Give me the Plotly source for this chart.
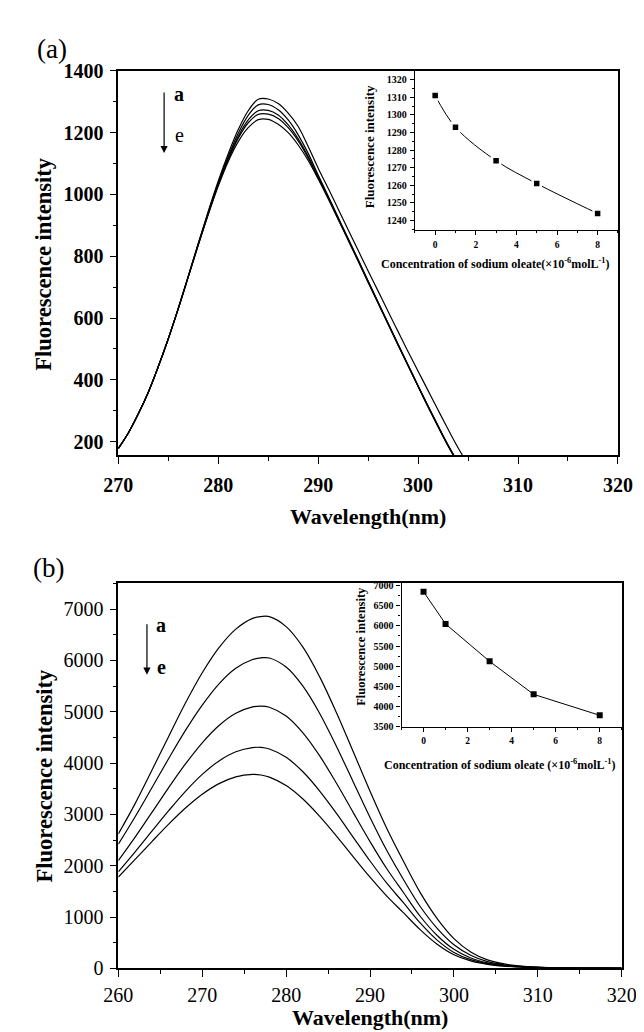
import plotly.graph_objects as go

W, H = 644, 1032
FONT = "Liberation Serif"

# ---------------- Panel (a) data ----------------
wl_a = list(range(270, 306))
spec_a_a = [178, 228, 290, 360, 443, 533, 632, 736, 842, 946, 1044, 1132, 1210, 1271, 1308, 1309, 1294, 1263, 1220, 1155,
            1085, 1020, 953, 886, 819, 752, 687, 621, 556, 491, 428, 365, 302, 240, 180, 125]
spec_a_b = [178, 228, 290, 360, 443, 533, 631, 735, 840, 942, 1038, 1123, 1198, 1256, 1290, 1291, 1274, 1241, 1193, 1133,
            1063, 995, 926, 857, 789, 720, 651, 583, 515, 448, 381, 315, 251, 189, 133, 83]
spec_a_c = [178, 228, 290, 360, 443, 533, 631, 734, 838, 939, 1034, 1117, 1188, 1241, 1271, 1272, 1257, 1225, 1180, 1123,
            1057, 991, 923, 855, 787, 718, 650, 582, 514, 447, 380, 314, 250, 188, 132, 82]
spec_a_d = [178, 228, 290, 360, 443, 533, 630, 733, 837, 937, 1031, 1113, 1182, 1232, 1259, 1260, 1246, 1216, 1173, 1118,
            1054, 989, 921, 854, 786, 717, 649, 581, 513, 446, 379, 313, 249, 187, 131, 81]
spec_a_e = [178, 228, 290, 360, 443, 533, 630, 733, 836, 935, 1027, 1107, 1171, 1216, 1242, 1243, 1227, 1200, 1160, 1110,
            1050, 986, 919, 852, 784, 715, 648, 580, 512, 445, 378, 312, 248, 186, 130, 80]

conc = [0, 1, 3, 5, 8]
inset_a = [1311, 1293, 1274, 1261, 1244]

# ---------------- Panel (b) data ----------------
wl_b = [260, 262, 264, 266, 268, 270, 272, 274, 276, 277, 278, 280, 282, 284, 286, 288, 290, 292, 294, 296,
        298, 300, 302, 304, 306, 308, 310, 312, 314, 316, 318, 320]
spec_b_a = [2620, 3210, 3860, 4520, 5170, 5760, 6250, 6610, 6820, 6855, 6855, 6660, 6260, 5680, 4980, 4220, 3450, 2725,
            2080, 1470, 970, 580, 320, 165, 85, 45, 25, 14, 8, 5, 3, 2]
spec_b_b = [2420, 2955, 3518, 4088, 4637, 5130, 5545, 5847, 6019, 6052, 6048, 5871, 5499, 4967, 4324, 3632, 2940, 2295,
            1727, 1200, 780, 460, 255, 130, 68, 36, 20, 11, 7, 4, 3, 2]
spec_b_c = [2100, 2557, 3038, 3522, 3983, 4395, 4732, 4970, 5094, 5110, 5088, 4916, 4588, 4139, 3606, 3035, 2470, 1940,
            1473, 1010, 640, 370, 200, 105, 55, 30, 17, 10, 6, 4, 2, 1]
spec_b_d = [1880, 2269, 2672, 3072, 3449, 3779, 4042, 4221, 4303, 4305, 4274, 4112, 3831, 3455, 3019, 2553, 2092, 1659,
            1274, 880, 550, 310, 170, 90, 48, 26, 15, 9, 5, 3, 2, 1]
spec_b_e = [1780, 2122, 2470, 2810, 3124, 3393, 3600, 3732, 3780, 3768, 3727, 3562, 3299, 2961, 2577, 2173, 1776, 1406,
            1080, 750, 470, 265, 145, 78, 42, 23, 13, 8, 5, 3, 2, 1]

inset_b = [6850, 6050, 5120, 4300, 3780]

# tick settings
ticks_a_x = dict(tick0=270, dtick=10)
ticks_a_y = dict(tick0=200, dtick=200)
ticks_b_x = dict(tick0=260, dtick=10)
ticks_b_y = dict(tick0=0, dtick=1000)


def fx(px):
    return px / W


def fy(py):
    return 1 - py / H


fig = go.Figure()

line_main = dict(color="black", width=1.2, shape="spline", smoothing=1.0)
for s in [spec_a_a, spec_a_b, spec_a_c, spec_a_d, spec_a_e]:
    fig.add_trace(go.Scatter(x=wl_a, y=s, mode="lines", line=line_main, xaxis="x", yaxis="y",
                             showlegend=False, hoverinfo="skip"))

fig.add_trace(go.Scatter(x=conc, y=inset_a, mode="lines+markers",
                         line=dict(color="black", width=1, shape="spline"),
                         marker=dict(symbol="square", size=8, color="black",
                                     line=dict(color="white", width=2.5)),
                         xaxis="x2", yaxis="y2", showlegend=False))

for s in [spec_b_a, spec_b_b, spec_b_c, spec_b_d, spec_b_e]:
    fig.add_trace(go.Scatter(x=wl_b, y=s, mode="lines", line=line_main, xaxis="x3", yaxis="y3",
                             showlegend=False, hoverinfo="skip"))

fig.add_trace(go.Scatter(x=conc, y=inset_b, mode="lines+markers",
                         line=dict(color="black", width=1),
                         marker=dict(symbol="square", size=6, color="black"),
                         xaxis="x4", yaxis="y4", showlegend=False))


def ax(domain, rng, anchor, tick, minor_dtick, size, bold, ticklen=7, minorlen=4, lw=1.5, standoff=2):
    return dict(domain=domain, range=rng, anchor=anchor, showline=True, linecolor="black", linewidth=lw,
                mirror=True, ticks="outside", ticklen=ticklen, tickwidth=1.3, tickcolor="black",
                minor=dict(dtick=minor_dtick, ticks="outside", ticklen=minorlen, tickwidth=1.1, tickcolor="black"),
                tickfont=dict(family=FONT, size=size, color="black", weight="bold" if bold else "normal"),
                showgrid=False, zeroline=False, ticklabelstandoff=standoff, **tick)


layout = dict(
    width=W, height=H, margin=dict(l=0, r=0, t=0, b=0),
    paper_bgcolor="white", plot_bgcolor="rgba(0,0,0,0)", showlegend=False,
    xaxis=ax([fx(100), fx(624)], [270, 320], "y", ticks_a_x, 5, 20, True, standoff=4),
    yaxis=ax([fy(446), fy(53)], [155, 1400], "x", ticks_a_y, 100, 20, True, standoff=2),
    xaxis2=ax([fx(411), fx(624)], [-1, 9], "y2", dict(tick0=0, dtick=2), 1, 9.5, True, ticklen=4, minorlen=2, lw=1.2, standoff=1),
    yaxis2=ax([fy(216), fy(53)], [1234.4, 1325], "x2", dict(tick0=1240, dtick=10), 5, 10, True, ticklen=4, minorlen=2, lw=1.2, standoff=1),
    xaxis3=ax([fx(100), fx(628)], [260, 320], "y3", ticks_b_x, 5, 20, False, standoff=1),
    yaxis3=ax([fy(970), fy(576)], [0, 7515], "x3", ticks_b_y, 500, 20, False, standoff=2),
    xaxis4=ax([fx(397), fx(628)], [-1, 9], "y4", dict(tick0=0, dtick=2), 1, 9.5, True, ticklen=4, minorlen=2, lw=1.2, standoff=1),
    yaxis4=ax([fy(723), fy(576)], [3500, 7073], "x4", dict(tick0=3500, dtick=500), 250, 10, True, ticklen=4, minorlen=2, lw=1.2, standoff=1),
)
fig.update_layout(**layout)


def txt(text, px, py, size, bold=True, angle=0):
    fig.add_annotation(text=text, x=fx(px), y=fy(py), xref="paper", yref="paper", showarrow=False,
                       xanchor="center", yanchor="middle", textangle=angle,
                       font=dict(family=FONT, size=size, color="black", weight="bold" if bold else "normal"))


def arrow(px, py_tail, py_head):
    fig.add_annotation(text="", x=fx(px), y=fy(py_head), xref="paper", yref="paper", showarrow=True,
                       ax=0, ay=py_tail - py_head, arrowhead=2, arrowsize=1.2, arrowwidth=1.2,
                       arrowcolor="black", standoff=0, startstandoff=0)


# panel labels
txt("(a)", 30, 31, 27, bold=False)
txt("(b)", 27, 561, 27, bold=False)

# main axis titles
txt("Fluorescence intensity", 22, 250, 22.5, angle=-90)
txt("Wavelength(nm)", 362, 508, 22)
txt("Fluorescence intensity", 23, 773, 22.5, angle=-90)
txt("Wavelength(nm)", 364, 1020, 22)

# inset titles
txt("Fluorescence intensity", 363, 131, 13, angle=-90)
txt("Concentration of sodium oleate(×10<sup>-6</sup>molL<sup>-1</sup>)", 495, 250, 12)
txt("Fluorescence intensity", 355, 641, 12.5, angle=-90)
txt("Concentration of sodium oleate (×10<sup>-6</sup>molL<sup>-1</sup>)", 500, 762, 12)

# a -> e arrows
arrow(148, 75, 137)
txt("a", 164, 77, 20, bold=True)
txt("e", 164, 119, 20, bold=False)
arrow(130, 618, 670)
txt("a", 145, 619, 20, bold=True)
txt("e", 145, 662, 20, bold=True)

fig.write_html("out.html")
